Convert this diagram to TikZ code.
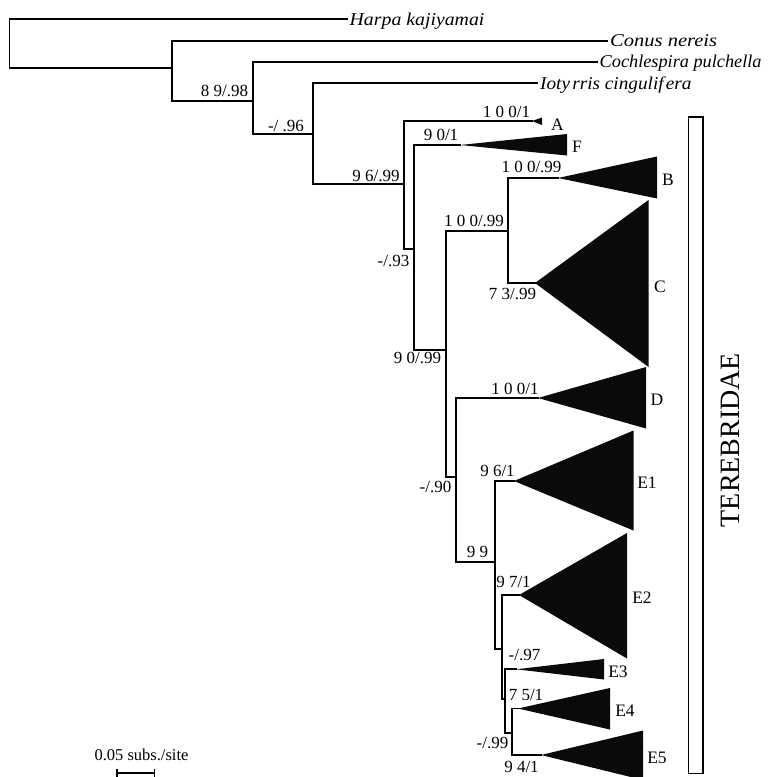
\documentclass[tikz,border=0pt]{standalone}
\usepackage{fontspec}
\setmainfont{Liberation Serif}
\begin{document}
\begin{tikzpicture}[x=1pt,y=-1pt,
  br/.style={line width=1.7pt, line cap=rect},
  tri/.style={fill=black!96},
  lbl/.style={font=\fontsize{17}{20}\selectfont, inner sep=0pt, anchor=base},
  clade/.style={font=\fontsize{17.5}{20}\selectfont, inner sep=0pt, anchor=base},
  tax/.style={font=\fontsize{18}{20}\selectfont\itshape, inner sep=0pt, anchor=base west}]
\useasboundingbox (0,0) rectangle (773,777);
% tree coordinates
\coordinate (root) at (9.5,43);
\coordinate (harpaE) at (347,19);
\coordinate (n2) at (172,68);
\coordinate (conusE) at (607,40.7);
\coordinate (n3) at (253,101);
\coordinate (cochE) at (597,61.7);
\coordinate (n4) at (313,134);
\coordinate (ioE) at (537,83.3);
\coordinate (n5) at (404,184);
\coordinate (aA) at (532,121);
\coordinate (n6) at (414,249);
\coordinate (aF) at (460,145);
\coordinate (n7) at (446,350);
\coordinate (n8) at (508,231);
\coordinate (aB) at (558,178);
\coordinate (aC) at (535,283);
\coordinate (n9) at (456,477);
\coordinate (aD) at (538,398);
\coordinate (n10) at (495,562);
\coordinate (aE1) at (514,481);
\coordinate (n11) at (501.7,649);
\coordinate (aE2) at (519,595);
\coordinate (n12) at (505,699);
\coordinate (aE3) at (516,669.3);
\coordinate (n13) at (511.7,733);
\coordinate (aE4) at (518,708.5);
\coordinate (aE5) at (541,755);
% branches
\draw[br] (root) |- (harpaE);
\draw[br] (root) |- (n2);
\draw[br] (n2) |- (conusE);
\draw[br] (n2) |- (n3);
\draw[br] (n3) |- (cochE);
\draw[br] (n3) |- (n4);
\draw[br] (n4) |- (ioE);
\draw[br] (n4) |- (n5);
\draw[br] (n5) |- (aA);
\draw[br] (n5) |- (n6);
\draw[br] (n6) |- (aF);
\draw[br] (n6) |- (n7);
\draw[br] (n7) |- (n8);
\draw[br] (n7) |- (n9);
\draw[br] (n8) |- (aB);
\draw[br] (n8) |- (aC);
\draw[br] (n9) |- (aD);
\draw[br] (n9) |- (n10);
\draw[br] (n10) |- (aE1);
\draw[br] (n10) |- (n11);
\draw[br] (n11) |- (aE2);
\draw[br] (n11) |- (n12);
\draw[br] (n12) |- (aE3);
\draw[br] (n12) |- (n13);
\draw[br] (n13) |- (aE4);
\draw[br] (n13) |- (aE5);
% collapsed clades
\fill[tri] (aA) -- (542,117.5) -- (542,125) -- cycle;
\fill[tri] (aF) -- (567,134) -- (567,155.5) -- cycle;
\fill[tri] (aB) -- (657,156.5) -- (657,198.5) -- cycle;
\fill[tri] (aC) -- (648.5,200) -- (648.5,367) -- cycle;
\fill[tri] (aD) -- (646,367) -- (646,428.5) -- cycle;
\fill[tri] (aE1) -- (633.5,430.5) -- (633.5,530.5) -- cycle;
\fill[tri] (aE2) -- (627,533) -- (627,658.5) -- cycle;
\fill[tri] (aE3) -- (604,659) -- (604,679.5) -- cycle;
\fill[tri] (aE4) -- (610,688) -- (610,729.5) -- cycle;
\fill[tri] (aE5) -- (643,730.5) -- (643,780) -- cycle;
% taxon names
\node[tax] (tHarpa) at (349.5,25) {\scalebox{1.1}[1]{Harpa kajiyamai}};
\node[tax] (tConus) at (610,46.5) {\scalebox{1.14}[1]{Conus nereis}};
\node[tax] (tCoch) at (599.5,67.5) {\scalebox{1.015}[1]{Cochlespira pulchella}};
\node[tax] (tIoty) at (540,89) {\scalebox{1.07}[1]{Ioty\kern2pt rris cingulif\kern2pt era}};
% clade letters
\node[clade] (cA) at (557.5,130) {A};
\node[clade] (cF) at (577,152.5) {F};
\node[clade] (cB) at (668,185) {B};
\node[clade] (cC) at (660,292) {C};
\node[clade] (cD) at (657,405) {D};
\node[clade] (cE1) at (647,488.5) {E1};
\node[clade] (cE2) at (642,603) {E2};
\node[clade] (cE3) at (618,677) {E3};
\node[clade] (cE4) at (625,716.5) {E4};
\node[clade] (cE5) at (657,763) {E5};
% support values
\node[lbl] (s1) at (224.5,96.5) {8 9/.98};
\node[lbl] (s2) at (286,131.5) {-/ .96};
\node[lbl] (s3) at (376,181.5) {9 6/.99};
\node[lbl] (s4) at (506.5,117.5) {1 0 0/1};
\node[lbl] (s5) at (441,140.5) {9 0/1};
\node[lbl] (s6) at (531.5,172.5) {1 0 0/.99};
\node[lbl] (s7) at (474,226) {1 0 0/.99};
\node[lbl] (s8) at (393.5,266) {-/.93};
\node[lbl] (s9) at (512.5,299) {7 3/.99};
\node[lbl] (s10) at (417.5,363) {9 0/.99};
\node[lbl] (s11) at (435.5,492.5) {-/.90};
\node[lbl] (s12) at (515,394) {1 0 0/1};
\node[lbl] (s13) at (497.5,476) {9 6/1};
\node[lbl] (s14) at (477.5,557.5) {9 9};
\node[lbl] (s15) at (513.5,587) {9 7/1};
\node[lbl] (s16) at (524.5,660.5) {-/.97};
\node[lbl] (s17) at (526,700.5) {7 5/1};
\node[lbl] (s18) at (492.5,748) {-/.99};
\node[lbl] (s19) at (521.5,772.5) {9 4/1};
% Terebridae bar
\draw[line width=1.6pt] (688.5,117) rectangle (703,773.5);
\node[font=\fontsize{28}{30}\selectfont, rotate=90, inner sep=0pt] (tere) at (730,440) {TEREBRIDAE};
% scale bar
\coordinate (sbL) at (116.7,773);
\coordinate (sbR) at (154.3,773);
\draw[line width=1.6pt] (sbL) -- (sbR);
\draw[line width=1.6pt] ([yshift=-6.5pt]sbL) -- ([yshift=4pt]sbL);
\draw[line width=1.6pt] ([yshift=-6.5pt]sbR) -- ([yshift=4pt]sbR);
\node[font=\fontsize{16.5}{18}\selectfont, inner sep=0pt, anchor=base] (sbT) at (141.5,760) {0.05 subs./site};
\end{tikzpicture}
\end{document}
